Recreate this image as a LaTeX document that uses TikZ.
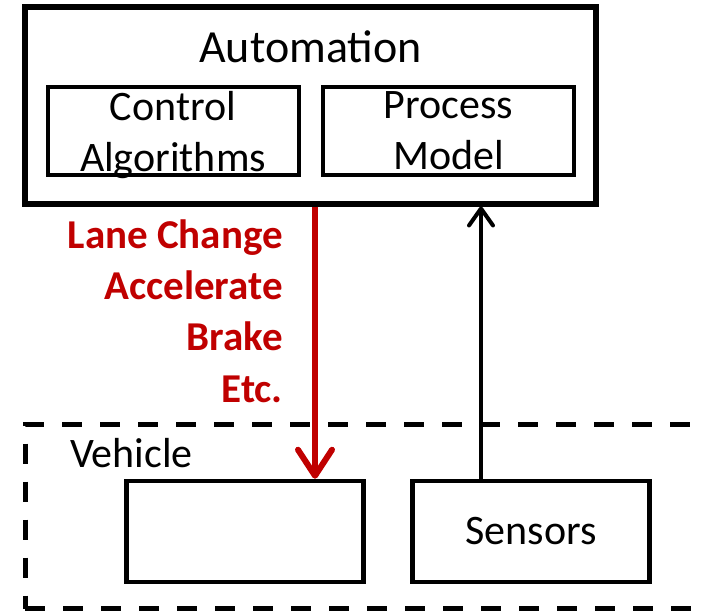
\documentclass[tikz,border=0pt]{standalone}
\usepackage{fontspec}
\setmainfont{Carlito}
\usetikzlibrary{arrows.meta}
\definecolor{cmdred}{RGB}{192,0,0}
\begin{document}
\begin{tikzpicture}[x=1pt,y=-1pt,
  inbox/.style={draw,line width=4pt,inner sep=0pt,minimum width=251pt,minimum height=88pt,
    align=center,text depth=0pt,font=\fontsize{42pt}{51pt}\selectfont},
  vbox/.style={draw,line width=4.5pt,inner sep=0pt,minimum width=237pt,minimum height=101pt,
    font=\fontsize{42pt}{50pt}\selectfont},
  cmdarrow/.style={cmdred,line width=6pt,-{Straight Barb[round,length=26pt,width=34pt]}},
  fbarrow/.style={black,line width=4pt,-{Straight Barb[round,length=17pt,width=24pt]}}]
  \useasboundingbox (0,0) rectangle (702,613);

  \node[draw,line width=5pt,dash pattern=on 20pt off 18pt,inner sep=0pt,
    minimum width=715pt,minimum height=184.5pt] (vehicle) at (382.5,516.25) {};
  \node[anchor=base west,inner sep=0pt,font=\fontsize{42pt}{50pt}\selectfont] (vehlabel) at (70,467) {Vehicle};
  \node[vbox] (act) at (245,531.5) {};
  \node[vbox] (sens) at (531,531.5) {Sensors};

  \node[draw,line width=6pt,inner sep=0pt,minimum width=571pt,minimum height=196.5pt] (auto) at (310.5,105.25) {};
  \node[anchor=base,inner sep=0pt,font=\fontsize{46pt}{55pt}\selectfont] (autotitle) at (310.5,62) {Automation};
  \node[inbox] (ctrl) at (173,131) {Control\\Algorithms};
  \node[inbox] (model) at (448.5,131) {Process\\Model};

  \node[anchor=base east,align=right,inner sep=0pt,text=cmdred,
    font=\fontsize{41pt}{51.3pt}\selectfont\bfseries] (cmds) at (283,402) {Lane Change\\Accelerate\\Brake\\Etc.};

  \draw[cmdarrow] ([xshift=4.5pt]auto.south) -- ([xshift=4.5pt]auto.south |- act.north);
  \draw[fbarrow] ([xshift=-50pt]sens.north) -- ([xshift=-50pt]sens.north |- auto.south);
\end{tikzpicture}
\end{document}
